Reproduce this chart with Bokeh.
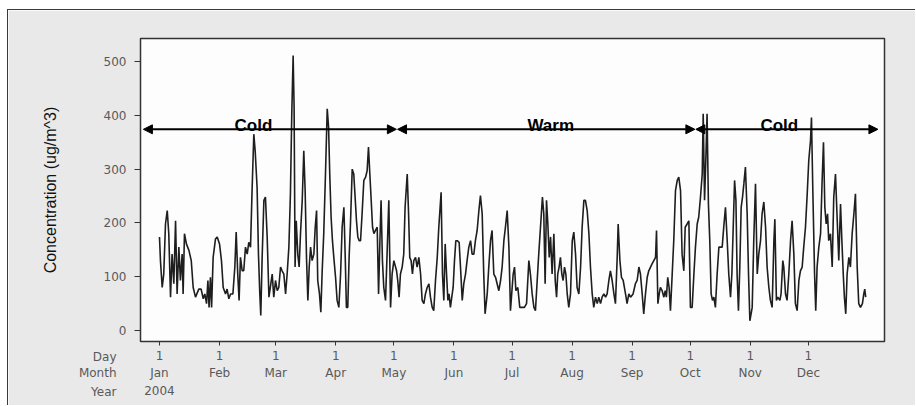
from bokeh.plotting import figure
from bokeh.models import Arrow, NormalHead, Label, Range1d
from bokeh.embed import file_html
from bokeh.resources import INLINE

# ---- data: day of year 2004 (0 = 1 Jan) and concentration (ug/m^3) ----
days_janfeb = [0, 0.5, 1.4, 2.2, 3.1, 4.0, 4.8, 5.7, 6.5, 7.4, 8.3, 9.1, 10.0, 10.8, 11.7, 12.2, 12.9, 13.9, 15.2, 16.4,
               17.4, 18.6, 20.3, 21.5, 22.6, 23.4, 24.3, 25.0, 25.6, 26.3, 26.9, 27.7, 28.9, 29.8, 31.0, 32.0, 32.9, 34.1, 34.9, 35.8,
               36.7, 37.9, 38.9, 39.6, 40.4, 41.1, 41.8, 42.7, 43.5, 44.4, 45.3, 46.1, 47.0, 47.8, 48.7, 49.4, 50.4, 51.1, 51.8, 52.3,
               53.0, 53.9, 54.7, 55.6, 56.5]
conc_janfeb = [174, 130, 80, 105, 198, 223, 180, 62, 142, 87, 204, 68, 155, 93, 142, 68, 180, 161, 149, 130,
               80, 62, 77, 77, 59, 68, 50, 93, 43, 99, 43, 136, 170, 174, 161, 130, 80, 68, 77, 59,
               68, 68, 118, 183, 105, 56, 136, 111, 111, 155, 142, 164, 155, 260, 365, 334, 266, 142, 68, 28,
               136, 242, 248, 174, 62]

days_marapr = [58.2, 59.0, 59.9, 60.8, 61.6, 62.5, 63.3, 64.2, 65.1, 65.9, 66.8, 67.6, 68.3, 69.0, 69.5, 70.0, 70.6, 71.4, 72.1, 72.8,
               73.7, 74.5, 75.2, 75.9, 76.6, 77.3, 78.0, 78.8, 79.7, 80.4, 81.1, 81.7, 82.6, 83.3, 84.0, 84.8, 85.7, 86.6, 87.3, 87.9,
               88.6, 89.3, 90.0, 90.9, 91.7, 92.6, 93.5, 94.3, 95.2, 95.9, 96.5, 97.2, 97.9, 98.6, 99.5, 100.3, 101.0, 101.7, 102.4, 103.1,
               103.8, 104.6, 105.5, 106.4, 107.2, 107.9, 108.6, 109.3, 110.0, 110.7, 111.5, 112.4, 113.1, 113.8, 114.4, 115.1, 115.8, 116.7, 117.5, 118.4,
               119.3, 120.1, 121.0]
conc_marapr = [105, 62, 93, 74, 80, 118, 111, 105, 68, 105, 155, 254, 403, 511, 415, 118, 204, 142, 118, 180,
               242, 334, 260, 136, 56, 118, 155, 130, 142, 192, 223, 93, 68, 34, 111, 180, 291, 412, 378, 291,
               211, 167, 136, 99, 56, 43, 105, 192, 229, 136, 43, 43, 136, 198, 300, 291, 248, 204, 174, 167,
               167, 217, 279, 285, 297, 341, 291, 242, 192, 180, 186, 192, 68, 167, 242, 130, 80, 56, 142, 242,
               43, 105, 130]

days_mayjun = [122.4, 123.0, 123.7, 124.4, 125.3, 126.1, 126.8, 127.9, 128.6, 129.2, 129.9, 130.6, 131.3, 132.2, 133.0, 133.9, 134.8, 135.6, 136.5, 137.3,
               138.2, 139.1, 139.9, 140.8, 141.6, 142.5, 143.4, 144.2, 145.4, 146.1, 146.8, 147.5, 148.2, 148.9, 149.5, 150.2, 150.9, 151.6, 152.3, 153.0,
               153.7, 154.7, 155.4, 156.3, 157.1, 158.0, 158.8, 159.7, 160.6, 161.4, 162.3, 163.1, 164.0, 164.9, 165.7, 166.6, 167.4, 168.1, 169.2, 170.0,
               170.9, 171.7, 172.6, 173.5, 174.3, 175.2, 176.1, 176.9, 177.8, 178.6, 179.5, 180.4, 181.2]
conc_mayjun = [111, 93, 62, 105, 118, 142, 229, 291, 217, 136, 130, 105, 130, 136, 118, 136, 105, 56, 50, 68,
               80, 87, 62, 43, 37, 93, 136, 192, 257, 105, 56, 161, 105, 56, 68, 43, 62, 80, 130, 167,
               167, 164, 118, 56, 87, 105, 130, 155, 167, 142, 142, 167, 186, 223, 251, 217, 105, 31, 68, 118,
               167, 186, 105, 99, 87, 74, 93, 118, 167, 192, 223, 155, 37]

days_julaug = [182.6, 183.3, 184.0, 185.0, 186.0, 187.2, 188.4, 189.5, 190.7, 191.5, 192.4, 193.3, 194.1, 195.0, 195.8, 196.7, 197.7, 198.4, 199.1, 199.8,
               200.5, 201.2, 201.9, 202.7, 203.6, 204.3, 205.0, 205.6, 206.3, 207.0, 207.7, 208.4, 209.1, 209.8, 210.5, 211.3, 212.2, 213.1, 213.9, 214.8,
               215.6, 216.5, 217.4, 218.2, 219.1, 219.9, 220.8, 221.7, 222.5, 223.4, 224.2, 225.1, 226.0, 226.8, 227.7, 228.5, 229.4, 230.3, 231.1, 232.0,
               232.8, 233.7, 234.6, 235.4, 236.3, 236.8, 237.7, 238.5, 239.4, 240.6, 241.4, 242.3, 243.2, 244.5]
conc_julaug = [105, 118, 74, 80, 43, 43, 43, 50, 130, 105, 68, 43, 37, 93, 142, 192, 248, 217, 87, 242,
               198, 136, 174, 105, 180, 93, 62, 105, 118, 136, 105, 93, 118, 105, 68, 43, 68, 167, 183, 142,
               80, 68, 118, 192, 242, 242, 223, 180, 118, 68, 43, 62, 50, 62, 50, 62, 68, 62, 68, 93,
               111, 93, 68, 50, 136, 198, 130, 99, 93, 68, 50, 68, 62, 68]

days_sepoct = [245.7, 246.6, 247.5, 248.3, 249.2, 250.0, 250.9, 251.8, 252.6, 253.5, 254.3, 255.2, 256.1, 256.6, 257.3, 258.0, 258.6, 259.5, 260.4, 261.1,
               261.7, 262.4, 263.1, 263.8, 264.7, 265.5, 266.4, 267.3, 268.1, 269.0, 269.8, 270.7, 271.4, 272.4, 273.3, 274.1, 275.0, 275.9, 276.7, 277.6,
               278.4, 279.3, 280.2, 280.7, 281.4, 282.1, 282.7, 283.4, 284.1, 284.8, 285.5, 286.2, 287.0, 287.9, 288.8, 289.6, 290.5, 291.3, 292.2, 293.1,
               293.9, 294.8, 295.5, 296.2, 296.9, 297.6, 298.2, 298.9, 299.6, 300.3, 301.0, 301.7, 302.5, 303.4, 304.1, 304.8]
conc_sepoct = [87, 93, 118, 105, 68, 31, 68, 99, 111, 118, 124, 130, 136, 186, 50, 68, 80, 74, 62, 74,
               62, 99, 80, 37, 105, 167, 260, 279, 285, 260, 142, 111, 192, 198, 204, 43, 43, 105, 155, 198,
               211, 248, 291, 403, 242, 322, 403, 235, 167, 68, 56, 62, 43, 105, 155, 155, 155, 192, 229, 167,
               105, 62, 105, 192, 279, 242, 105, 37, 118, 229, 248, 273, 304, 217, 105, 18]

days_novdec = [306.0, 306.8, 307.7, 308.6, 309.4, 310.3, 311.1, 312.0, 312.9, 313.7, 314.6, 315.4, 316.3, 317.2, 317.7, 318.5, 319.2, 320.3, 320.9, 321.8,
               322.3, 323.2, 324.0, 324.9, 325.8, 326.6, 327.5, 328.3, 329.2, 330.1, 330.9, 331.8, 332.6, 333.5, 334.4, 335.2, 336.1, 336.6, 337.3, 338.2,
               338.8, 339.5, 340.4, 341.3, 342.1, 342.8, 343.5, 344.2, 344.9, 345.5, 346.4, 347.3, 348.1, 349.0, 349.9, 350.7, 351.6, 352.3, 353.0, 353.6,
               354.3, 355.0, 355.9, 356.7, 357.6, 358.5, 359.3, 360.2, 361.0, 361.9, 362.9, 363.6, 364.1, 364.6]
conc_novdec = [43, 167, 273, 105, 142, 167, 217, 239, 192, 118, 80, 56, 43, 167, 207, 56, 62, 56, 68, 130,
               118, 68, 56, 105, 167, 204, 142, 50, 37, 93, 111, 118, 155, 192, 254, 316, 353, 396, 260, 105,
               37, 118, 155, 180, 279, 350, 229, 198, 217, 167, 180, 118, 248, 291, 204, 130, 235, 167, 105, 62,
               31, 105, 136, 118, 180, 217, 254, 118, 50, 43, 50, 68, 77, 62]

# axis ticks
month_start_days = [0, 31, 60, 91, 121, 152, 182, 213, 244, 274, 305, 335]
month_names = ["Jan", "Feb", "Mar", "Apr", "May", "Jun", "Jul", "Aug", "Sep", "Oct", "Nov", "Dec"]
day_label = "1"
year_label = "2004"
row_captions = ["Day", "Month", "Year"]
y_ticks = [0, 100, 200, 300, 400, 500]

# season annotations: label, arrow start day, arrow end day, label centre day
season_names = ["Cold", "Warm", "Cold"]
season_start = [-8.3, 122.9, 276.9]
season_end = [122.3, 276.4, 370.9]
season_label_day = [48.5, 202.0, 320.0]
season_level = 374

day = days_janfeb + days_marapr + days_mayjun + days_julaug + days_sepoct + days_novdec
conc = conc_janfeb + conc_marapr + conc_mayjun + conc_julaug + conc_sepoct + conc_novdec

W, H = 908, 396
LINE_H = 1.27
# ---- figure ----
p = figure(width=W, height=H, output_backend="svg", toolbar_location=None,
           x_range=Range1d(-9.8, 374.3), y_range=Range1d(-20.4, 542.8),
           min_border_left=132, min_border_right=32, min_border_top=28, min_border_bottom=65)
p.styles = {"border-top": "1px solid #3a3a3a", "border-left": "1px solid #3a3a3a",
            "margin-left": "7px", "margin-top": "9px"}
p.background_fill_color = "#fdfdfd"
p.border_fill_color = "#e9e9e9"
p.outline_line_color = "#333333"
p.outline_line_width = 1.5
p.xgrid.visible = False
p.ygrid.visible = False

p.line(day, conc, line_color="#1e1e1e", line_width=1.6)

# y axis
ya = p.yaxis[0]
ya.ticker = y_ticks
ya.axis_label = "Concentration (ug/m^3)"
ya.axis_label_text_font = "Liberation Sans"
ya.axis_label_text_font_style = "normal"
ya.axis_label_text_font_size = "16px"
ya.axis_label_text_color = "#111111"
ya.axis_label_standoff = 42
ya.major_label_text_font = "DejaVu Sans"
ya.major_label_text_font_size = "12px"
ya.major_label_text_color = "#595959"
ya.major_label_standoff = 8
ya.major_tick_out = 6
ya.major_tick_in = 0
ya.minor_tick_out = 0
ya.minor_tick_in = 0
ya.axis_line_color = "#333333"
ya.major_tick_line_color = "#333333"

# x axis
xa = p.xaxis[0]
xa.ticker = month_start_days
overrides = {}
for i, (d, m) in enumerate(zip(month_start_days, month_names)):
    overrides[d] = day_label + "\n" + m + ("\n" + year_label if i == 0 else "")
xa.major_label_overrides = overrides
xa.major_label_text_font = "DejaVu Sans"
xa.major_label_text_font_size = "12px"
xa.major_label_text_color = "#595959"
xa.major_label_text_line_height = LINE_H
xa.major_label_standoff = 3
xa.major_tick_out = 4
xa.major_tick_in = 0
xa.minor_tick_out = 0
xa.minor_tick_in = 0
xa.axis_line_color = "#333333"
xa.major_tick_line_color = "#333333"

# row captions of the multi-level time axis; each sits in a side panel that has room to spare,
# so that it is not clipped to the frame and does not shrink it (positions are canvas pixels)
caption_panels = ["right", "above", "left"]
caption_y = [345, 361, 380]
for txt, place, yv in zip(row_captions, caption_panels, caption_y):
    p.add_layout(Label(x=107, y=yv, x_units="canvas", y_units="canvas", text=txt,
                       text_align="right", text_baseline="middle",
                       text_font="DejaVu Sans", text_font_size="12px", text_color="#595959"), place)

# season arrows
for name, s, e, lx in zip(season_names, season_start, season_end, season_label_day):
    p.add_layout(Arrow(x_start=s, y_start=season_level, x_end=e, y_end=season_level,
                       line_color="black", line_width=2,
                       start=NormalHead(size=9, fill_color="black", line_color="black", line_width=1),
                       end=NormalHead(size=9, fill_color="black", line_color="black", line_width=1)))
    p.add_layout(Label(x=lx, y=season_level + 7, text=name,
                       text_align="center", text_baseline="alphabetic",
                       text_font="Liberation Sans", text_font_style="bold", text_font_size="17px",
                       text_color="black"))

open("out.html", "w").write(file_html(p, INLINE))
